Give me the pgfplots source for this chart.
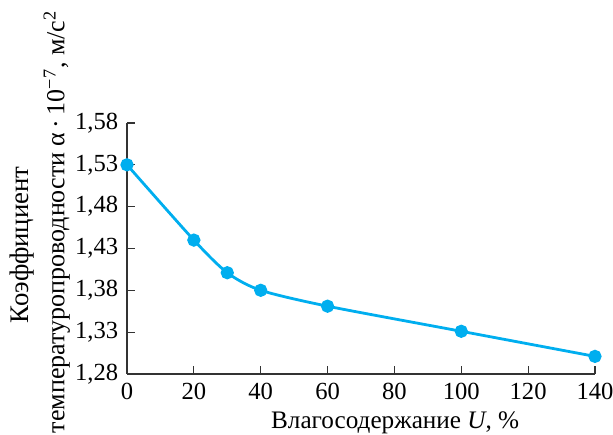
\documentclass[border=0pt]{standalone}
\usepackage{fontspec}
\setmainfont{Liberation Serif}
\usepackage{pgfplots}
\pgfplotsset{compat=1.18}
\definecolor{linecyan}{RGB}{0,174,239}
\begin{document}
\fontsize{12.6}{15}\selectfont
\begin{tikzpicture}
\begin{axis}[
    scale only axis,
    width=234pt, height=125.5pt,
    xmin=0, xmax=140, ymin=1.28, ymax=1.58,
    xtick={0,20,...,140},
    ytick={1.28,1.33,1.38,1.43,1.48,1.53,1.58},
    axis x line*=bottom, axis y line*=left,
    axis line style={line width=0.7pt, draw=black!80},
    tick style={line width=0.6pt, draw=black!80},
    tick align=inside,
    major tick length=4pt,
    clip=false,
    tick label style={font=\fontsize{12.3}{14}\selectfont},
    /pgf/number format/assume math mode=true,
    /pgf/number format/use comma,
    yticklabel style={/pgf/number format/fixed, /pgf/number format/precision=2, /pgf/number format/fixed zerofill},
    xlabel={Влагосодержание \textit{U}, \%},
    xlabel style={at={(axis description cs:0.573,-0.195)}, anchor=center},
    ylabel={температуропроводности α\,·\,10\textsuperscript{−7}, м/с\textsuperscript{2}},
    ylabel style={at={(axis description cs:-0.150,0.606)}, anchor=center,
                  font=\fontsize{13}{16}\selectfont},
]
\addplot[color=linecyan, line width=1.4pt, smooth, tension=0.45,
         mark=*, mark size=2.6pt, mark options={fill=linecyan, draw=linecyan}]
coordinates {
    (0,1.53)
    (20,1.44)
    (30,1.401)
    (40,1.38)
    (60,1.361)
    (100,1.331)
    (140,1.301)
};
\node[rotate=90, anchor=center, font=\fontsize{13.4}{16}\selectfont]
    at (rel axis cs:-0.224,0.514) {Коэффициент};
% corners of the page, so the margins match the reference
\coordinate (pageNW) at (rel axis cs:-0.2714,1.490);
\coordinate (pageSE) at (rel axis cs:1.0385,-0.243);
\end{axis}
\pgfresetboundingbox
\path (pageNW) rectangle (pageSE);
\end{tikzpicture}
\end{document}
